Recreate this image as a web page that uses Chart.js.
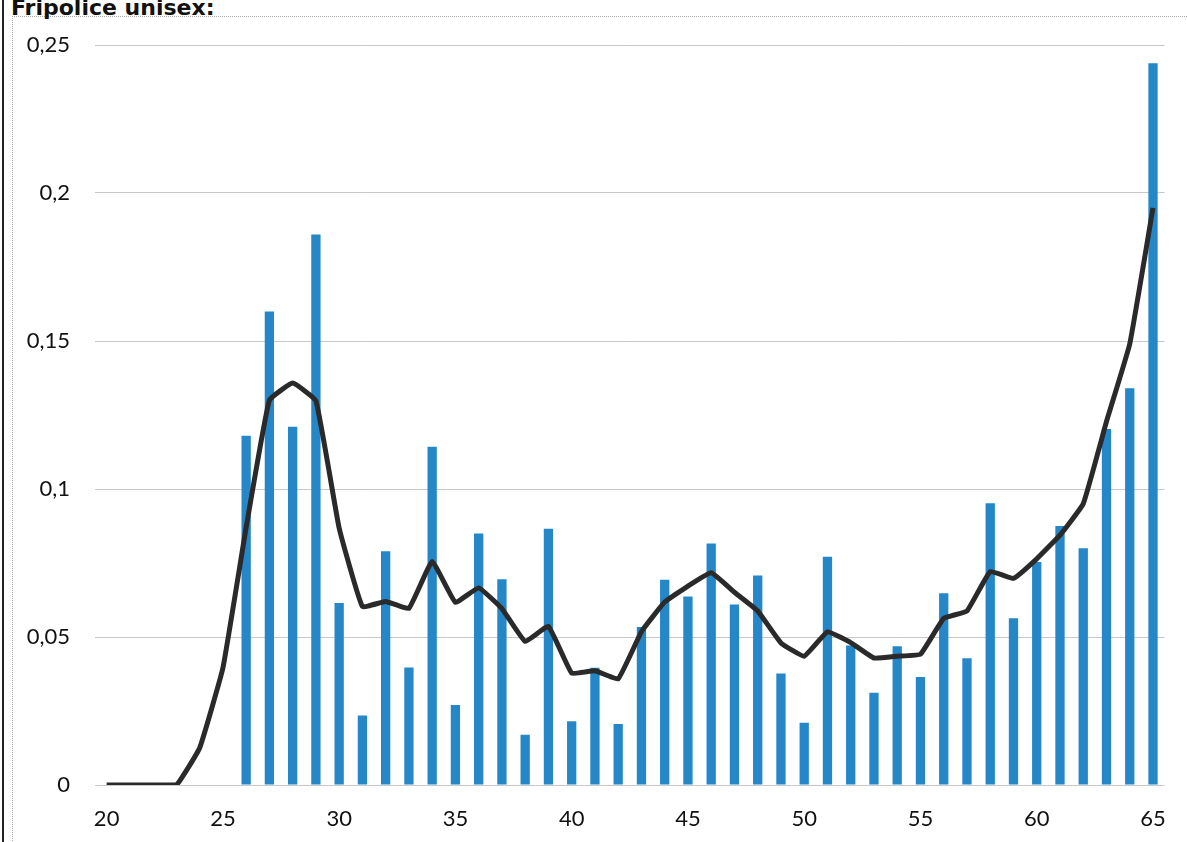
<!DOCTYPE html>
<html>
<head>
<meta charset="utf-8">
<script src="https://cdn.jsdelivr.net/npm/chart.js@4.4.1/dist/chart.umd.min.js"></script>
<style>
  html, body { margin: 0; padding: 0; background: #fff; overflow: hidden; }
  #page { position: relative; width: 1187px; height: 842px; }
  #frame { position: absolute; left: 2px; top: 0; width: 2px; height: 842px; background: #222; }
  #box { position: absolute; left: 12px; top: 16px; width: 1200px; height: 900px;
         border-left: 1px dotted #aaa; border-top: 1px dotted #aaa; }
  #title { position: absolute; left: 11px; top: -5px; font: bold 22px "DejaVu Sans", sans-serif;
           color: #111; line-height: 26px; white-space: nowrap; }
  #chart { position: absolute; left: 0; top: 0; }
</style>
</head>
<body>
<div id="page">
  <div id="frame"></div>
  <div id="box"></div>
  <div id="title">Fripolice unisex:</div>
  <canvas id="chart" width="1187" height="842"></canvas>
</div>
<script>
// alder 20..65
const ages = [20, 21, 22, 23, 24, 25, 26, 27, 28, 29, 30, 31, 32, 33, 34, 35, 36, 37, 38, 39,
  40, 41, 42, 43, 44, 45, 46, 47, 48, 49, 50, 51, 52, 53, 54, 55, 56, 57, 58, 59,
  60, 61, 62, 63, 64, 65];

// søjler (ingen data før 26)
const barValues = [null, null, null, null, null, null,
  0.118, 0.160, 0.121, 0.186, 0.0615, 0.0235, 0.079, 0.0397, 0.1143, 0.027,
  0.085, 0.0695, 0.017, 0.0866, 0.0215, 0.0396, 0.0206, 0.0534, 0.0693, 0.0637,
  0.0816, 0.061, 0.0708, 0.0377, 0.021, 0.0771, 0.0471, 0.0312, 0.0469, 0.0365,
  0.0648, 0.0428, 0.0952, 0.0563, 0.0753, 0.0875, 0.08, 0.1203, 0.134, 0.2438];

// udjævnet kurve
const lineValues = [0, 0, 0, 0, 0.0125, 0.0395,
  0.087, 0.130, 0.1358, 0.1298, 0.0868, 0.0603, 0.062, 0.0597, 0.0755, 0.0617,
  0.0666, 0.0596, 0.0485, 0.0536, 0.0378, 0.0386, 0.0359, 0.0518, 0.0618, 0.0672,
  0.0717, 0.0651, 0.0588, 0.048, 0.0435, 0.0517, 0.0481, 0.0429, 0.0435, 0.0442,
  0.0563, 0.0588, 0.0721, 0.0698, 0.0764, 0.0844, 0.095, 0.1228, 0.149, 0.195];

const yTicks = [0, 0.05, 0.1, 0.15, 0.2, 0.25];

const tickFont = { family: "Lato, 'Open Sans', sans-serif", size: 22 };

new Chart(document.getElementById("chart"), {
    type: "bar",
    data: {
        labels: ages,
        datasets: [
            {
                type: "line",
                data: lineValues,
                borderColor: "#2a2a2a",
                borderWidth: 5,
                pointRadius: 0,
                tension: 0.1,
                order: 0,
            },
            {
                type: "bar",
                data: barValues,
                backgroundColor: "#2587c8",
                barPercentage: 0.4,
                categoryPercentage: 1,
                order: 1,
            },
        ],
    },
    options: {
        responsive: false,
        animation: false,
        maintainAspectRatio: false,
        layout: { padding: { left: 0, right: 22, top: 45, bottom: 0 } },
        plugins: { legend: { display: false }, tooltip: { enabled: false } },
        scales: {
            x: {
                grid: { display: false, drawTicks: false },
                border: { display: false },
                ticks: {
                    autoSkip: false,
                    maxRotation: 0,
                    color: "#111",
                    font: tickFont,
                    padding: 21,
                    callback: (v, i) => (ages[i] % 5 === 0 ? String(ages[i]) : ""),
                },
                afterFit: (scale) => { scale.height = 57; },
            },
            y: {
                min: 0,
                max: 0.25,
                afterBuildTicks: (scale) => {
                    scale.ticks = yTicks.map((v) => ({ value: v }));
                },
                grid: { color: "#c8c8c8", lineWidth: 1, drawTicks: false },
                border: { display: false },
                ticks: {
                    color: "#111",
                    font: tickFont,
                    padding: 25,
                    callback: (v) => String(Number(v.toFixed(2))).replace(".", ","),
                },
                afterFit: (scale) => { scale.width = 95; },
            },
        },
    },
});
</script>
</body>
</html>
